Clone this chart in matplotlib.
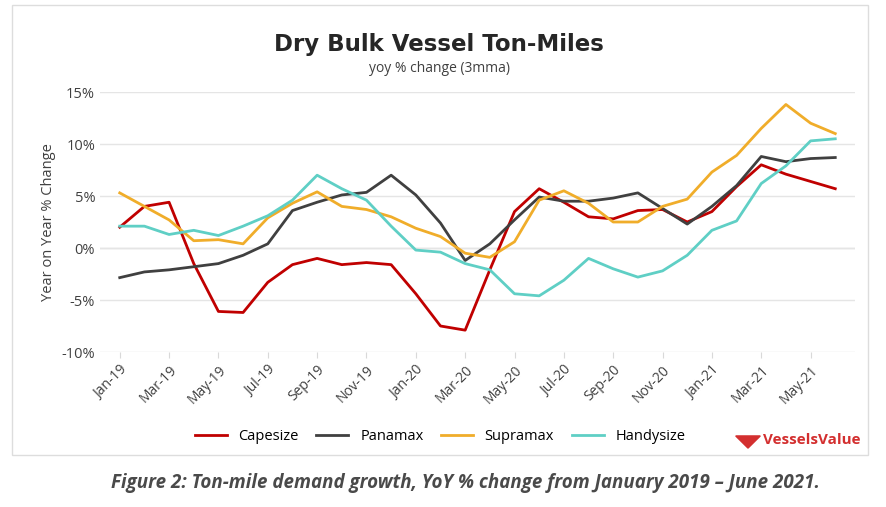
import matplotlib.pyplot as plt
from matplotlib.patches import Rectangle, RegularPolygon

plt.rcParams['font.family'] = ['Open Sans', 'DejaVu Sans']

months = ["Jan", "Feb", "Mar", "Apr", "May", "Jun", "Jul", "Aug", "Sep", "Oct", "Nov", "Dec"]
labels = [f"{m}-{y}" for y in (19, 20, 21) for m in months][:30]

capesize = [2.0, 4.0, 4.4, -1.5, -6.1, -6.2, -3.3, -1.6, -1.0, -1.6, -1.4, -1.6, -4.4, -7.5, -7.9,
            -2.1, 3.5, 5.7, 4.4, 3.0, 2.8, 3.6, 3.7, 2.5, 3.5, 5.9, 8.0, 7.1, 6.4, 5.7]
panamax = [-2.85, -2.3, -2.1, -1.8, -1.5, -0.7, 0.4, 3.6, 4.4, 5.1, 5.35, 7.0, 5.1, 2.4, -1.2,
           0.4, 2.7, 4.9, 4.5, 4.5, 4.8, 5.3, 3.8, 2.3, 4.0, 6.0, 8.8, 8.3, 8.6, 8.7]
supramax = [5.3, 4.0, 2.7, 0.7, 0.8, 0.4, 2.9, 4.3, 5.4, 4.0, 3.7, 3.0, 1.9, 1.1, -0.5,
            -0.9, 0.6, 4.6, 5.5, 4.3, 2.5, 2.5, 4.0, 4.7, 7.3, 8.9, 11.5, 13.8, 12.0, 11.0]
handysize = [2.1, 2.1, 1.3, 1.7, 1.2, 2.1, 3.1, 4.6, 7.0, 5.7, 4.6, 2.1, -0.2, -0.4, -1.5,
             -2.1, -4.4, -4.6, -3.1, -1.0, -2.0, -2.8, -2.2, -0.7, 1.7, 2.6, 6.2, 7.9, 10.3, 10.5]

series = [("Capesize", capesize, "#c00000"), ("Panamax", panamax, "#404040"),
          ("Supramax", supramax, "#f0ad2a"), ("Handysize", handysize, "#5fcfc5")]

fig = plt.figure(figsize=(8.87, 5.07), dpi=100)
fig.patches.append(Rectangle((12/887, 1-455/507), 856/887, 450/507, transform=fig.transFigure,
                             fill=False, ec="#dddddd", lw=1))
ax = fig.add_axes([100/887, 1-352/507, 755/887, 260/507])
x = list(range(30))
for name, vals, c in series:
    ax.plot(x, vals, color=c, lw=2, label=name)

ax.set_xlim(-0.8, 29.8)
ax.set_ylim(-10, 15)
ax.set_yticks(range(-10, 16, 5))
ax.set_yticklabels([f"{v}%" for v in range(-10, 16, 5)], fontsize=10.5, color="#404040")
ax.set_xticks(x[::2])
ax.set_xticklabels(labels[::2], rotation=45, ha="right", rotation_mode="anchor", fontsize=10, color="#404040")
ax.tick_params(axis="y", length=0)
ax.tick_params(axis="x", length=4, color="#d9d9d9")
ax.grid(axis="y", color="#e5e5e5", lw=1)
ax.set_axisbelow(True)
for s in ("top", "right", "left", "bottom"):
    ax.spines[s].set_visible(False)
ax.axhline(0, color="#d9d9d9", lw=1, zorder=0)
ax.set_ylabel("Year on Year % Change", fontsize=10.5, color="#404040")

fig.text(0.495, 1-45/507, "Dry Bulk Vessel Ton-Miles", ha="center", va="center",
         fontsize=16.5, fontweight="bold", color="#262626", family=["DejaVu Sans"])
fig.text(0.495, 1-68/507, "yoy % change (3mma)", ha="center", va="center", fontsize=10, color="#404040")

ax.legend(loc="center", bbox_to_anchor=(440/887, 1-437/507), bbox_transform=fig.transFigure,
          ncol=4, frameon=False, fontsize=10.5, handlelength=2.2, columnspacing=1.2)

fig.patches.append(RegularPolygon((748/887, 1-440/507), 3, radius=0.016, orientation=3.1416,
                                  transform=fig.transFigure, color="#d32f2f"))
fig.text(763/887, 1-440/507, "VesselsValue", ha="left", va="center", fontsize=11,
         color="#d32f2f", fontweight="bold")

fig.text(0.525, 1-483/507, "Figure 2: Ton-mile demand growth, YoY % change from January 2019 \u2013 June 2021.",
         ha="center", va="center", fontsize=13.5, fontweight="bold", fontstyle="italic", color="#4a4a4a")

fig.savefig("out.png", dpi=100, facecolor="white")
